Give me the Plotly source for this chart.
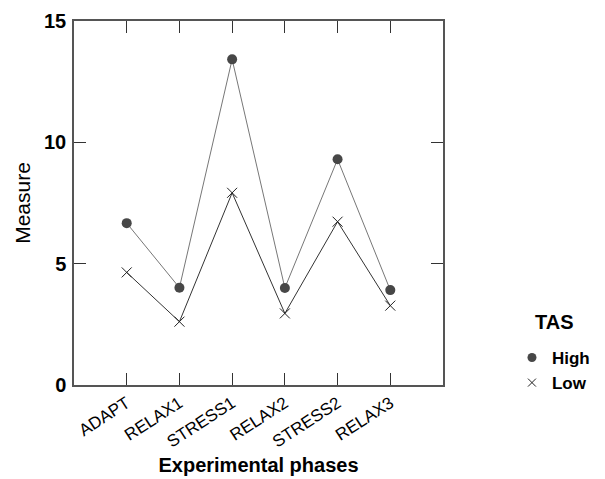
import plotly.graph_objects as go

phases = ["ADAPT", "RELAX1", "STRESS1", "RELAX2", "STRESS2", "RELAX3"]
high_vals = [6.67, 4.01, 13.42, 4.0, 9.30, 3.91]
low_vals = [4.64, 2.61, 7.92, 2.95, 6.73, 3.27]
y_ticks = [0, 5, 10, 15]

xpos = list(range(1, len(phases) + 1))
FONT = "Liberation Sans, Arial, sans-serif"

fig = go.Figure()
fig.add_trace(go.Scatter(
    x=xpos, y=high_vals, mode="lines+markers", name="High", showlegend=False,
    line=dict(color="#777777", width=1),
    marker=dict(symbol="circle", size=10, color="#474747"),
))
fig.add_trace(go.Scatter(
    x=xpos, y=low_vals, mode="lines+markers", name="Low", showlegend=False,
    line=dict(color="#333333", width=1),
    marker=dict(symbol="x-thin", size=10, line=dict(color="#222222", width=1)),
))
fig.add_trace(go.Scatter(
    x=[None], y=[None], mode="markers", name="High",
    marker=dict(symbol="circle", size=9, color="#474747"),
))
fig.add_trace(go.Scatter(
    x=[None], y=[None], mode="markers", name="Low",
    marker=dict(symbol="x-thin", size=8, line=dict(color="#222222", width=1)),
))

axis_common = dict(
    showline=True, linecolor="#555555", linewidth=1.5, mirror="ticks",
    ticks="inside", ticklen=12, tickcolor="#333333", tickwidth=1.2,
    showgrid=False, zeroline=False, automargin=False,
)

fig.update_layout(
    width=605, height=479,
    margin=dict(l=66, r=170, t=13, b=102, autoexpand=False),
    paper_bgcolor="white", plot_bgcolor="white",
    font=dict(family=FONT, color="black"),
    xaxis=dict(
        range=[0, 7], tickvals=xpos, ticktext=phases, tickangle=-33,
        tickfont=dict(size=17, family=FONT),
        title=dict(text="Experimental phases", font=dict(size=20, weight="bold"), standoff=8),
        **axis_common,
    ),
    yaxis=dict(
        range=[0, 15], tickvals=y_ticks, ticklabelstandoff=2,
        tickfont=dict(size=20, family=FONT, weight="bold"),
        title=dict(text="Measure", font=dict(size=21), standoff=8),
        **axis_common,
    ),
    legend=dict(
        font=dict(size=17, weight="bold"),
        xref="container", yref="container",
        x=0.833, y=0.307, xanchor="left", yanchor="top",
        bgcolor="rgba(0,0,0,0)", tracegroupgap=0, itemwidth=30,
    ),
    annotations=[dict(
        text="TAS", xref="paper", yref="paper", x=1.243, y=0.173,
        xanchor="left", yanchor="middle", showarrow=False,
        font=dict(size=20, weight="bold", family=FONT),
    )],
)

fig.write_html("out.html")
